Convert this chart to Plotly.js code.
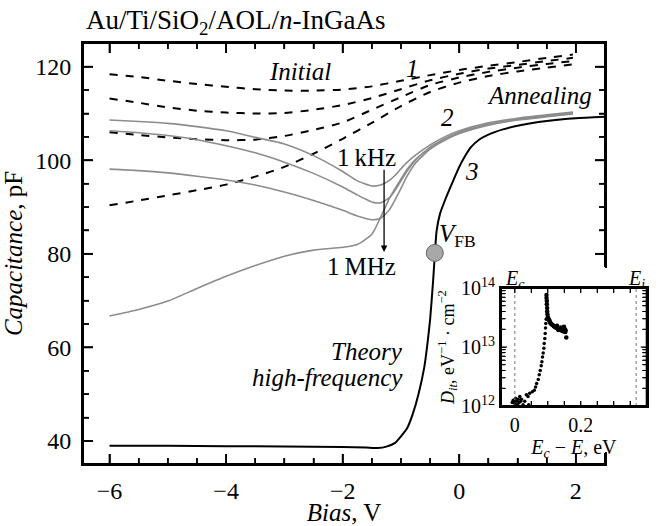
<!DOCTYPE html>
<html><head><meta charset="utf-8">
<script src="https://cdn.plot.ly/plotly-3.0.1.min.js"></script>
<style>html,body{margin:0;padding:0;background:#fff}.modebar-container{display:none!important}</style>
</head><body><div id="chart" style="width:658px;height:526px"></div>
<script>
// ---- main panel: C-V curves ----
const biasInitial = [-6,-5.5,-5,-4.5,-4,-3.5,-3,-2.5,-2,-1.5,-1,-0.5,0,0.5,1,1.5,1.95];
const initial1 = [118.4,117.8,117.0,116.3,115.7,115.2,114.9,114.9,115.1,115.8,117.0,118.2,119.3,120.2,121.0,121.9,122.6];
const initial2 = [113.2,112.3,111.3,110.6,110.2,110.0,110.1,110.8,111.8,113.3,115.2,117.1,118.5,119.6,120.4,121.2,121.9];
const initial3 = [106.0,105.4,104.9,104.5,104.3,104.4,105.2,106.5,108.1,110.8,113.5,116.1,117.7,118.9,119.8,120.6,121.2];
const initial4 = [90.4,91.4,92.5,93.6,94.8,96.5,98.6,101.4,104.6,108.0,111.6,114.6,116.6,118.0,119.0,119.8,120.5];

const biasAnneal = [-6,-5.5,-5,-4.5,-4,-3.5,-3,-2.5,-2,-1.75,-1.5,-1.35,-1.2,-1.1,-1,-0.9,-0.75,-0.5,-0.25,0,0.5,1,1.5,1.95];
const anneal1kHz = [108.6,108.3,107.9,107.2,106.3,104.9,103.5,101.0,97.6,95.6,94.5,94.7,95.7,96.8,98.2,99.5,101.1,103.3,105.0,106.3,108.0,109.0,109.7,110.3];
const annealF2   = [106.3,105.9,105.3,104.4,103.1,101.6,99.6,97.2,94.3,92.6,91.1,90.9,92.0,93.6,95.6,97.6,100.0,102.8,104.6,106.0,107.7,108.8,109.5,110.1];
const annealF3   = [98.1,97.8,97.3,96.6,95.8,94.7,93.2,91.4,89.3,88.1,87.3,87.6,89.4,91.6,94.0,96.5,99.4,102.4,104.3,105.7,107.5,108.6,109.3,109.9];
const anneal1MHz = [66.7,68.1,69.9,72.6,75.2,77.5,79.5,80.8,81.4,82.0,84.2,87.8,91.8,94.0,96.0,98.0,100.2,102.6,104.4,105.8,107.6,108.7,109.4,110.0];

const biasTheory = [-6,-5,-4,-3,-2,-1.6,-1.4,-1.25,-1.1,-1.0,-0.9,-0.8,-0.7,-0.6,-0.55,-0.5,-0.45,-0.42,-0.39,-0.33,-0.25,-0.15,0,0.1,0.2,0.35,0.5,0.75,1.0,1.5,2.0,2.5];
const theoryHF   = [39.0,39.0,38.9,38.8,38.7,38.6,38.5,38.8,39.6,41.0,42.6,45.7,50.0,55.8,60.4,66.0,74.0,79.8,84.8,88.6,91.3,94.3,98.6,100.9,102.8,104.5,105.5,106.6,107.4,108.4,109.0,109.3];

const vfbBias = [-0.42];
const vfbCap  = [80.2];

// main axis tick positions
const mainXMajor = [-6,-4,-2,0,2];
const mainXMinor = [-6.5,-5.5,-5,-4.5,-3.5,-3,-2.5,-1.5,-1,-0.5,0.5,1,1.5,2.5].filter(v=>v>-6.45);
const mainYMajor = [40,60,80,100,120];
const mainYMinor = [45,50,55,65,70,75,85,90,95,105,110,115];

// ---- inset: interface state density ----
const insetUpperE = [0.096,0.096,0.097,0.097,0.098,0.098,0.099,0.100,0.101,0.103,0.105,0.107,0.109,0.112,0.115,0.118,0.121,0.124,0.127,0.130,0.133,0.136,0.139,0.142,0.145,0.147,0.149,0.150,0.152,0.153,0.154,0.156,0.146,0.140,0.128,0.132];
const insetUpperD = [7.6e13,6.8e13,6.0e13,5.3e13,4.6e13,4.0e13,3.6e13,3.2e13,3.1e13,2.9e13,2.8e13,2.6e13,2.5e13,2.4e13,2.35e13,2.25e13,2.2e13,2.15e13,2.1e13,2.05e13,2.0e13,2.0e13,1.95e13,1.9e13,1.95e13,2.1e13,2.2e13,1.85e13,2.0e13,1.8e13,1.9e13,1.45e13,1.85e13,2.15e13,2.3e13,1.95e13];
const insetLowerE = [-0.008,-0.005,0.000,0.002,0.005,0.008,0.010,0.013,0.015,0.018,0.020,0.025,0.030,0.035,0.040,0.042,0.045,0.053,0.059,0.063,0.066,0.071,0.074,0.077,0.080,0.082,0.084,0.086,0.088,0.089,0.091,0.092,0.093,0.094,0.095];
const insetLowerD = [1.15e12,1.25e12,1.1e12,1.35e12,1.2e12,1.05e12,1.3e12,1.15e12,1.45e12,1.2e12,1.3e12,1.05e12,1.2e12,1.55e12,1.45e12,1.05e12,1.65e12,1.75e12,1.85e12,2.1e12,2.4e12,2.8e12,3.4e12,4.0e12,4.8e12,5.6e12,6.8e12,7.9e12,9.5e12,1.15e13,1.4e13,1.7e13,2.1e13,2.5e13,2.95e13];
const Ec = 0, Ei = 0.368;

// inset tick positions and labels
const xTickVals2 = [0,0.05,0.1,0.15,0.2,0.25,0.3,0.35,0.4];
const xTickText2 = ['0','','','','0.2','','','','0.4'];
const yTickVals2 = [1e12,2e12,3e12,4e12,5e12,6e12,7e12,8e12,9e12,1e13,2e13,3e13,4e13,5e13,6e13,7e13,8e13,9e13,1e14];
const yTickText2 = ['10<sup>12</sup>','','','','','','','','','10<sup>13</sup>','','','','','','','','','10<sup>14</sup>'];

const serif = 'Liberation Serif';
const dashedLine = {color:'#000', width:2, dash:'8px,8px', shape:'spline', smoothing:0.6};
const grayLine = {color:'#8c8c8c', width:1.6, shape:'spline', smoothing:0.6};

const traces = [];
[initial1,initial2,initial3,initial4].forEach(y=>traces.push({x:biasInitial,y:y,mode:'lines',line:dashedLine,showlegend:false}));
[anneal1kHz,annealF2,annealF3,anneal1MHz].forEach(y=>traces.push({x:biasAnneal,y:y,mode:'lines',line:grayLine,showlegend:false}));
traces.push({x:biasTheory,y:theoryHF,mode:'lines',line:{color:'#000',width:2,shape:'spline',smoothing:0.5},showlegend:false});
traces.push({x:vfbBias,y:vfbCap,mode:'markers',marker:{size:17,color:'#a8a8a8',line:{color:'#666',width:1}},showlegend:false});
traces.push({x:insetLowerE,y:insetLowerD,mode:'markers',marker:{size:3.5,color:'#000'},xaxis:'x2',yaxis:'y2',showlegend:false});
traces.push({x:insetUpperE,y:insetUpperD,mode:'markers',marker:{size:4.5,color:'#000'},xaxis:'x2',yaxis:'y2',showlegend:false});

const PX = v => (v-83)/565;      // pixel -> paper x
const PY = v => (464-v)/421;     // pixel -> paper y

// shapes: cover rects for the hidden part of the right frame, then frame and ticks
const shapes = [
  {type:'rect', xref:'paper', yref:'paper', x0:PX(592), x1:PX(612), y0:PY(286), y1:PY(268), fillcolor:'#fff', line:{width:0}, layer:'above'},
  {type:'rect', xref:'paper', yref:'paper', x0:PX(592), x1:PX(612), y0:PY(399), y1:PY(295), fillcolor:'#fff', line:{width:0}, layer:'above'},
  {type:'rect', xref:'paper', yref:'paper', x0:PX(592), x1:PX(612), y0:PY(452), y1:PY(408), fillcolor:'#fff', line:{width:0}, layer:'above'},
  {type:'line', xref:'x2', yref:'y2 domain', x0:Ec, x1:Ec, y0:0, y1:1, line:{color:'#777', width:1, dash:'dot'}},
  {type:'line', xref:'x2', yref:'y2 domain', x0:Ei, x1:Ei, y0:0, y1:1, line:{color:'#777', width:1, dash:'dot'}}
];
const L = (o)=>shapes.push(Object.assign({type:'line', layer:'above', line:{color:'#000', width:o.w||1.8}}, o));
// main frame
L({xref:'paper', yref:'paper', x0:0, x1:0, y0:0, y1:1, w:2});
L({xref:'paper', yref:'paper', x0:0, x1:PX(605), y0:0, y1:0, w:2});
L({xref:'paper', yref:'paper', x0:0, x1:PX(605), y0:1, y1:1, w:2});
L({xref:'paper', yref:'paper', x0:PX(605), x1:PX(605), y0:PY(267), y1:1, w:2});
L({xref:'paper', yref:'paper', x0:PX(605), x1:PX(605), y0:0, y1:PY(453), w:2});
// main ticks
mainXMajor.forEach(v=>{L({xref:'x', yref:'paper', x0:v, x1:v, y0:0, y1:10/421}); L({xref:'x', yref:'paper', x0:v, x1:v, y0:1, y1:1-10/421});});
mainXMinor.forEach(v=>{L({xref:'x', yref:'paper', x0:v, x1:v, y0:0, y1:6/421, w:1.5}); L({xref:'x', yref:'paper', x0:v, x1:v, y0:1, y1:1-6/421, w:1.5});});
mainYMajor.forEach(v=>{L({xref:'paper', yref:'y', x0:0, x1:10/565, y0:v, y1:v}); if(v>=80) L({xref:'paper', yref:'y', x0:PX(605), x1:PX(595), y0:v, y1:v});});
mainYMinor.forEach(v=>{L({xref:'paper', yref:'y', x0:0, x1:6/565, y0:v, y1:v, w:1.5}); if(v>=80) L({xref:'paper', yref:'y', x0:PX(605), x1:PX(599), y0:v, y1:v, w:1.5});});
// inset frame and ticks
shapes.push({type:'rect', xref:'paper', yref:'paper', x0:PX(501), x1:PX(646.7), y0:PY(406), y1:PY(288), line:{color:'#000', width:2}, layer:'above'});
xTickVals2.forEach(v=>{L({xref:'x2', yref:'paper', x0:v, x1:v, y0:PY(406), y1:PY(401), w:1.2}); L({xref:'x2', yref:'paper', x0:v, x1:v, y0:PY(288), y1:PY(293), w:1.2});});
yTickVals2.forEach((v,i)=>{const f=(Math.log10(v)-12)/2, len=yTickText2[i]?6:4;
  L({xref:'paper', yref:'y2 domain', x0:PX(501), x1:PX(501+len), y0:f, y1:f, w:1.1});
  L({xref:'paper', yref:'y2 domain', x0:PX(646.7), x1:PX(646.7-len), y0:f, y1:f, w:1.1});});

const layout = {
  width:658, height:526,
  margin:{l:83, r:10, t:43, b:62},
  font:{family:serif, size:24, color:'#000'},
  xaxis:{domain:[0,PX(605)], range:[-6.455,2.5], dtick:2, ticks:'inside', ticklen:10, tickwidth:1.8,
    showline:true, linewidth:2, linecolor:'#000', mirror:'ticks', showgrid:false, zeroline:false, ticklabelstandoff:4,
    minor:{dtick:0.5, ticks:'inside', ticklen:6, showgrid:false},
    title:{text:'<i>Bias</i>, V', standoff:2, font:{size:25}}},
  yaxis:{range:[35.08,125.07], dtick:20, ticks:'inside', ticklen:10, tickwidth:1.8,
    showline:true, linewidth:2, linecolor:'#000', mirror:'ticks', showgrid:false, zeroline:false, ticklabelstandoff:5,
    minor:{dtick:5, ticks:'inside', ticklen:6, showgrid:false},
    title:{text:'<i>Capacitance</i>, pF', standoff:6, font:{size:25}}},
  xaxis2:{domain:[PX(501),PX(646.7)], range:[-0.042,0.4], anchor:'y2', tickmode:'array', tickvals:xTickVals2, ticktext:xTickText2,
    ticks:'inside', ticklen:5, tickwidth:1.2, showline:true, linewidth:2, linecolor:'#000', mirror:'ticks', showgrid:false, zeroline:false,
    tickfont:{size:20}, title:{text:'<i>E</i><sub><i>c</i></sub> − <i>E</i>, eV', standoff:2, font:{size:20}}},
  yaxis2:{domain:[PY(406),PY(288)], type:'log', range:[12,14], anchor:'x2', tickmode:'array', tickvals:yTickVals2, ticktext:yTickText2,
    ticks:'inside', ticklen:5, tickwidth:1.1, showline:true, linewidth:2, linecolor:'#000', mirror:'ticks', showgrid:false, zeroline:false,
    tickfont:{size:20}, title:{text:'<i>D</i><sub><i>it</i></sub>, eV<sup>−1</sup> · cm<sup>−2</sup>', standoff:2, font:{size:18}}},
  shapes:shapes,
  annotations:[
    {text:'Au/Ti/SiO<sub>2</sub>/AOL/<i>n</i>-InGaAs', x:PX(84), y:PY(22), xref:'paper', yref:'paper', xanchor:'left', yanchor:'middle', showarrow:false, font:{size:27}},
    {text:'<i>Initial</i>', x:-2.74, y:118.9, xref:'x', yref:'y', showarrow:false, font:{size:25}},
    {text:'<i>1</i>', x:-0.80, y:119.7, xref:'x', yref:'y', showarrow:false, font:{size:25}},
    {text:'<i>Annealing</i>', x:1.38, y:113.9, xref:'x', yref:'y', showarrow:false, font:{size:25}},
    {text:'<i>2</i>', x:-0.20, y:109.2, xref:'x', yref:'y', showarrow:false, font:{size:25}},
    {text:'<i>3</i>', x:0.21, y:97.5, xref:'x', yref:'y', showarrow:false, font:{size:25}},
    {text:'1\u2009kHz', x:-1.59, y:100.5, xref:'x', yref:'y', showarrow:false, font:{size:25}},
    {text:'1\u2009MHz', x:-1.67, y:77.2, xref:'x', yref:'y', showarrow:false, font:{size:25}},
    {text:'<i>V</i><sub>FB</sub>', x:-0.38, y:84.0, xref:'x', yref:'y', xanchor:'left', showarrow:false, font:{size:25}},
    {text:'<i>Theory</i>', x:-0.935, y:59.2, xref:'x', yref:'y', xanchor:'right', showarrow:false, font:{size:25}},
    {text:'<i>high-frequency</i>', x:-0.935, y:53.5, xref:'x', yref:'y', xanchor:'right', showarrow:false, font:{size:25}},
    {text:'', x:-1.29, y:80.4, ax:-1.29, ay:98.3, xref:'x', yref:'y', axref:'x', ayref:'y', showarrow:true, arrowhead:2, arrowsize:1, arrowwidth:1.3, arrowcolor:'#000'},
    {text:'<i>E</i><sub><i>c</i></sub>', x:Ec, y:PY(279), xref:'x2', yref:'paper', showarrow:false, font:{size:20}},
    {text:'<i>E</i><sub><i>i</i></sub>', x:Ei, y:PY(279), xref:'x2', yref:'paper', showarrow:false, font:{size:20}}
  ]
};

Plotly.newPlot('chart', traces, layout);
</script>
</body></html>
